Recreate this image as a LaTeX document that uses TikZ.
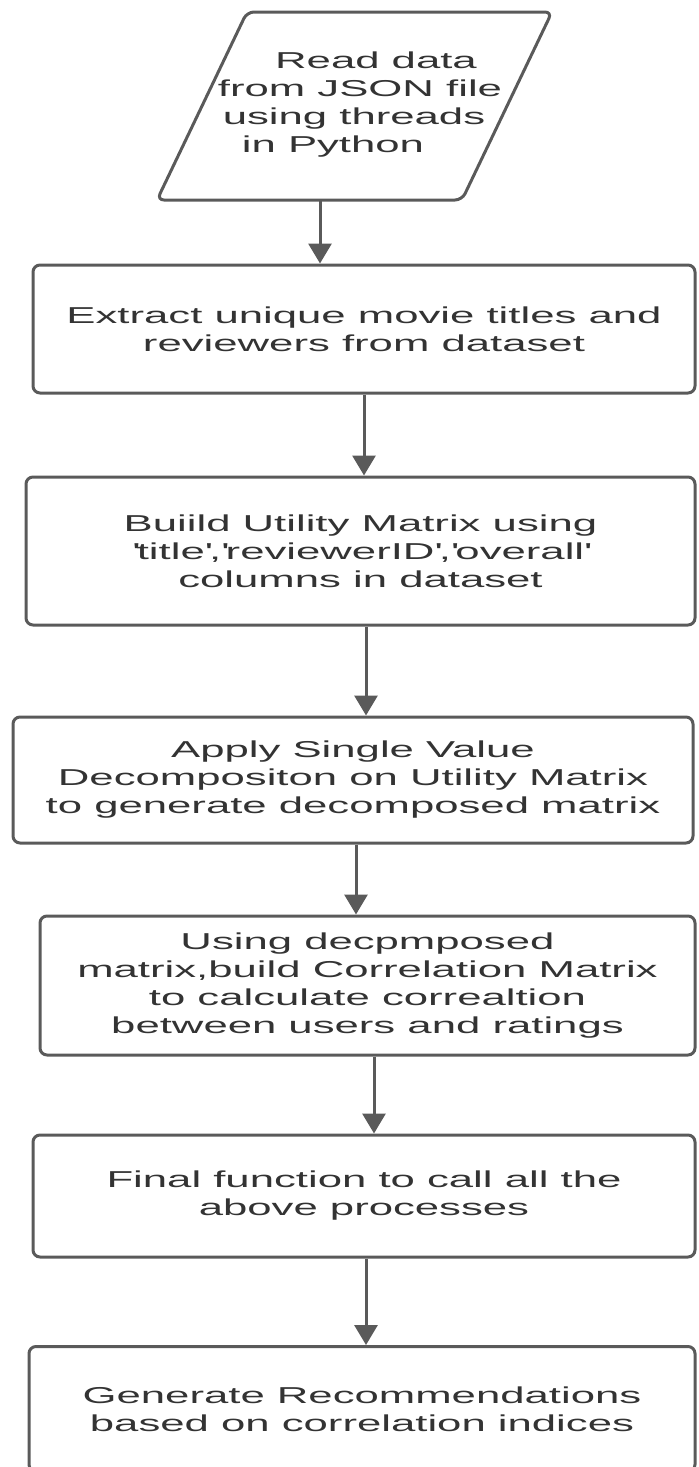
\documentclass[tikz,border=0pt]{standalone}
\usepackage{fontspec}
\setmainfont{Liberation Sans}[FakeStretch=1.9]
\usepackage{tikz}
\usetikzlibrary{arrows.meta}
\definecolor{linegray}{HTML}{5A5A5A}
\definecolor{textgray}{HTML}{333333}
\newcommand{\sq}{\textquotesingle}

\begin{document}
\begin{tikzpicture}[x=0.5pt, y=-0.5pt,
    steptext/.style={align=center, text=textgray, font=\fontsize{11.5}{14}\selectfont},
    stepbox/.style={steptext, draw=linegray, line width=1.5pt, rounded corners=3.5pt},
    flow/.style={draw=linegray, line width=1.5pt, -{Triangle[width=11.5pt, length=10pt]}}]
    \useasboundingbox (0,0) rectangle (698,1467);
    \draw[line width=1.5pt, draw=linegray, rounded corners=3.5pt]
        (247,12) -- (552,12) -- (462,200) -- (157,200) -- cycle;
    \node[steptext] (read) at (354,105)
        {\hspace*{22pt}Read data\\ \hspace*{6pt}from JSON file\\ using threads\hspace*{8pt}\\ in Python\hspace*{21pt}};
    \coordinate (readfoot) at (320,200);
    \node[stepbox, minimum width=331pt, minimum height=64pt] (extract) at (364,329)
        {Extract unique movie titles and\\ reviewers from dataset};
    \node[stepbox, minimum width=334.5pt, minimum height=74pt] (build) at (360.5,551)
        {Buiild Utility Matrix using\\ \sq title\sq,\sq reviewerID\sq,\sq overall\sq\\ columns in dataset};
    \node[stepbox, minimum width=340pt, minimum height=63pt] (svd) at (353,780)
        {Apply Single Value\\ Decompositon on Utility Matrix\\ to generate decomposed matrix};
    \node[stepbox, minimum width=327.5pt, minimum height=69.5pt] (corr) at (367.5,985.5)
        {Using decpmposed\\ matrix,build Correlation Matrix\\ to calculate correaltion\\ between users and ratings};
    \node[stepbox, minimum width=331pt, minimum height=61pt] (final) at (364,1196)
        {Final function to call all the\\ above processes};
    \node[stepbox, minimum width=333pt, minimum height=62.5pt] (recommend) at (362,1409)
        {Generate Recommendations\\ based on correlation indices};
    \draw[flow] (readfoot) -- (readfoot |- extract.north);
    \foreach \a/\b/\dx in {extract/build/0pt, build/svd/2.75pt, svd/corr/1.5pt, corr/final/3.25pt, final/recommend/1pt}
        \draw[flow] ([xshift=\dx]\a.south) -- ([xshift=\dx]\a.south |- \b.north);
\end{tikzpicture}
\end{document}
